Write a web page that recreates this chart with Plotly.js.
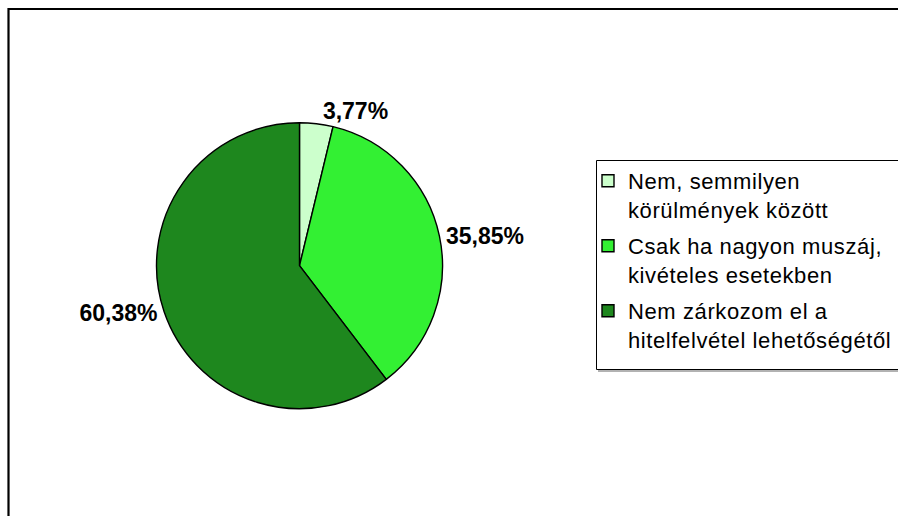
<!DOCTYPE html>
<html>
<head>
<meta charset="utf-8">
<script src="https://cdn.plot.ly/plotly-3.0.1.min.js"></script>
<style>
html,body{margin:0;padding:0;background:#fff;overflow:hidden;}
#chart{width:898px;height:516px;}
.legend .legendtext{letter-spacing:0.6px;}
.legend .scrollbox{clip-path:none !important;}
</style>
</head>
<body>
<div id="chart"></div>
<script>
const categories = [
  'Nem, semmilyen<br>körülmények között',
  'Csak ha nagyon muszáj,<br>kivételes esetekben',
  'Nem zárkozom el a<br>hitelfelvétel lehetőségétől'
];
const shares = [3.77, 35.85, 60.38];
const sliceColors = ['#CCFFCC', '#33F033', '#1E871E'];

const W = 898, H = 516;
const cx = 299.5, cy = 265.7, r = 143;
const px = v => v / W, py = v => 1 - v / H;

const trace = {
  type: 'pie',
  labels: categories,
  values: shares,
  sort: false,
  direction: 'clockwise',
  rotation: 0,
  marker: {colors: sliceColors, line: {color: '#000', width: 1.4}},
  textposition: 'outside',
  texttemplate: '%{percent:.2%}',
  outsidetextfont: {family: 'Liberation Sans, Arial, sans-serif', size: 23, color: '#000', weight: 700},
  hoverinfo: 'none',
  domain: {x: [px(cx - r), px(cx + r)], y: [py(cy + r), py(cy - r)]}
};

const layout = {
  width: W, height: H,
  margin: {l: 0, r: 0, t: 0, b: 0, pad: 0, autoexpand: false},
  paper_bgcolor: '#fff',
  separators: ', ',
  showlegend: true,
  legend: {
    x: px(588), y: py(160), xanchor: 'left', yanchor: 'top',
    bgcolor: 'rgba(0,0,0,0)', borderwidth: 0,
    valign: 'top',
    font: {family: 'Liberation Sans, Arial, sans-serif', size: 22, color: '#000'},
    itemclick: false, itemdoubleclick: false
  },
  shapes: [
    {type: 'path', xref: 'paper', yref: 'paper', layer: 'below',
     path: `M 1,${py(160.5)} L ${px(596.5)},${py(160.5)} L ${px(596.5)},${py(369.5)} L 1,${py(369.5)}`,
     line: {color: '#000', width: 1}, fillcolor: '#fff'},
    {type: 'path', xref: 'paper', yref: 'paper', layer: 'below',
     path: `M ${px(598)},${py(371)} L 1,${py(371)}`,
     line: {color: '#999', width: 1.5}},
    {type: 'path', xref: 'paper', yref: 'paper', layer: 'above',
     path: `M ${px(8.5)},0 L ${px(8.5)},${py(9)} L 1,${py(9)}`,
     line: {color: '#000', width: 2.2}}
  ],
  font: {family: 'Liberation Sans, Arial, sans-serif', color: '#000'}
};

Plotly.newPlot('chart', [trace], layout, {staticPlot: true, displayModeBar: false}).then(() => {
  const items = Array.from(document.querySelectorAll('.legend .traces'));
  const re = /translate\(\s*([-\d.e]+)[ ,]+([-\d.e]+)\s*\)/;
  const pos = items.map(g => {
    const m = re.exec(g.getAttribute('transform') || '');
    return m ? [parseFloat(m[1]), parseFloat(m[2])] : null;
  });
  if (pos.every(p => p)) {
    const step = 65;
    items.forEach((g, i) => {
      g.setAttribute('transform', `translate(${pos[i][0]},${pos[0][1] + i * step})`);
    });
  }
});
</script>
</body>
</html>
